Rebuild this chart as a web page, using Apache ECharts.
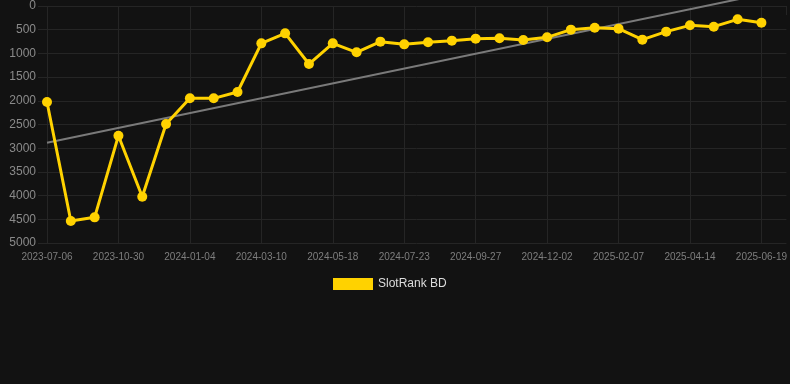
<!DOCTYPE html>
<html>
<head>
<meta charset="utf-8">
<script src="https://cdn.jsdelivr.net/npm/echarts@6/dist/echarts.min.js"></script>
<style>
  html, body { margin: 0; padding: 0; background: #121212; }
  #main { width: 790px; height: 384px; }
</style>
</head>
<body>
<div id="main"></div>
<script>
const dates = [
  '2023-07-06', '2023-08-14', '2023-09-22', '2023-10-30', '2023-11-21', '2023-12-13',
  '2024-01-04', '2024-01-26', '2024-02-17', '2024-03-10', '2024-04-02', '2024-04-25',
  '2024-05-18', '2024-06-09', '2024-07-01', '2024-07-23', '2024-08-14', '2024-09-05',
  '2024-09-27', '2024-10-19', '2024-11-10', '2024-12-02', '2024-12-24', '2025-01-16',
  '2025-02-07', '2025-03-01', '2025-03-23', '2025-04-14', '2025-05-06', '2025-05-28',
  '2025-06-19'
];
const ranks = [
  2025, 4536, 4459, 2736, 4023, 2489,
  1948, 1948, 1814, 788, 577, 1224,
  788, 977, 752, 809, 766, 731,
  689, 682, 717, 661, 499, 457,
  478, 710, 541, 408, 436, 281,
  352
];
const trendStart = 2884;
const trendEnd = -245;
const yTicks = [0, 5000, 500];

const gridColor = '#252525';

window.onload = function () {
  const myChart = echarts.init(document.getElementById('main'));
  // vertical lines every 3 points; the extra line at the axis end stays hidden
  const vColors = [];
  for (let i = 0; i < dates.length; i += 3) vColors.push(gridColor);
  vColors.push('rgba(0,0,0,0)');
  const option = {
    backgroundColor: '#121212',
    animation: false,
    grid: { left: 47, right: 0, top: 6, bottom: 141 },
    legend: {
      data: ['SlotRank BD'],
      top: 278,
      left: 333,
      padding: 0,
      icon: 'rect',
      itemWidth: 40,
      itemHeight: 12,
      itemGap: 10,
      textStyle: { color: '#dddddd', fontSize: 12, fontFamily: 'Liberation Sans, Arial, sans-serif' }
    },
    xAxis: {
      type: 'value',
      min: 0,
      max: 31.05,
      interval: 3,
      axisLine: { show: false },
      axisTick: { show: true, length: 9, lineStyle: { color: gridColor } },
      splitLine: { show: true, lineStyle: { color: vColors, width: 1 } },
      axisLabel: {
        color: '#7e7e7e',
        fontSize: 10,
        margin: 9,
        fontFamily: 'Liberation Sans, Arial, sans-serif',
        formatter: v => dates[v] || ''
      }
    },
    yAxis: {
      type: 'value',
      inverse: true,
      min: yTicks[0],
      max: yTicks[1],
      interval: yTicks[2],
      axisLine: { show: false },
      axisTick: { show: true, length: 9, lineStyle: { color: gridColor } },
      splitLine: { show: true, lineStyle: { color: gridColor, width: 1 } },
      axisLabel: {
        color: '#8a8a8a',
        fontSize: 12,
        margin: 11,
        fontFamily: 'Liberation Sans, Arial, sans-serif',
        formatter: v => String(v)
      }
    },
    series: [
      {
        name: 'Trend',
        type: 'line',
        clip: false,
        silent: true,
        symbol: 'none',
        z: 1,
        lineStyle: { color: '#7a7a7a', width: 2 },
        data: [[0, trendStart], [dates.length - 1, trendEnd]]
      },
      {
        name: 'SlotRank BD',
        type: 'line',
        z: 3,
        symbol: 'circle',
        symbolSize: 10,
        color: '#ffd200',
        lineStyle: { color: '#ffd200', width: 3 },
        itemStyle: { color: '#ffd200' },
        data: ranks.map((v, i) => [i, v])
      }
    ]
  };
  myChart.setOption(option, true);
};
</script>
</body>
</html>
